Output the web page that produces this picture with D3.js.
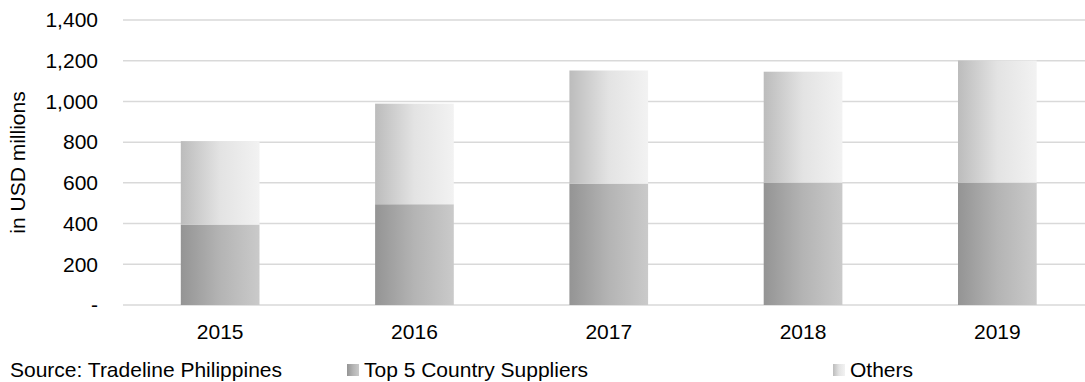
<!DOCTYPE html>
<html>
<head>
<meta charset="utf-8">
<script src="https://cdn.jsdelivr.net/npm/d3@7"></script>
<style>
  body { margin: 0; background: #fff; }
  text { font-family: "Liberation Sans", Arial, sans-serif; fill: #000; }
</style>
</head>
<body>
<div id="chart"></div>
<script>
// chart data
var years = ["2015", "2016", "2017", "2018", "2019"];
var top5 = [395, 495, 596, 601, 601];
var others = [410, 494, 556, 545, 600];
var seriesNames = ["Top 5 Country Suppliers", "Others"];
var yTicks = [0, 200, 400, 600, 800, 1000, 1200, 1400];

// dimensions
var W = 1085, H = 382;
var margin = {top: 20, left: 123, bottom: 77};
var plotH = H - margin.top - margin.bottom;
var fontSize = 21;

var svg = d3.select("#chart").append("svg")
    .attr("width", W)
    .attr("height", H);

// gradients for the two series
var defs = svg.append("defs");
function addGrad(id, stops) {
  var g = defs.append("linearGradient")
      .attr("id", id)
      .attr("x1", "0%").attr("x2", "100%")
      .attr("y1", "0%").attr("y2", "0%");
  stops.forEach(function(s) {
    g.append("stop").attr("offset", s[0]).attr("stop-color", s[1]);
  });
}
addGrad("gTop5", [["0%", "#949494"], ["50%", "#b4b4b4"], ["100%", "#cacaca"]]);
addGrad("gOthers", [["0%", "#bcbcbc"], ["50%", "#e3e3e3"], ["100%", "#f2f2f2"]]);

var g = svg.append("g")
    .attr("transform", "translate(" + margin.left + "," + margin.top + ")");

// scales
var x = d3.scaleBand()
  .domain(years)
  .range([0, 971.5])
  .paddingInner(0.595)
  .paddingOuter(0.2975);

var y = d3.scaleLinear()
  .domain([0, 1400])
  .range([plotH, 0]);

// gridlines
g.append("g")
  .selectAll("line")
  .data(yTicks)
  .enter().append("line")
    .attr("x1", 0)
    .attr("x2", W)
    .attr("y1", function(d) { return y(d); })
    .attr("y2", function(d) { return y(d); })
    .attr("stroke", "#d9d9d9")
    .attr("stroke-width", 1.5);

// y axis labels
g.append("g")
  .call(d3.axisLeft(y)
    .tickValues(yTicks)
    .tickSize(0)
    .tickPadding(25)
    .tickFormat(function(d) { return d === 0 ? "-" : d3.format(",")(d); }))
  .call(function(a) { a.select(".domain").remove(); })
  .selectAll("text")
    .attr("font-size", fontSize)
    .attr("font-family", "Liberation Sans, Arial, sans-serif")
    .attr("fill", "#000");

// x axis labels
g.append("g")
  .attr("transform", "translate(0," + plotH + ")")
  .call(d3.axisBottom(x).tickSize(0).tickPadding(19))
  .call(function(a) { a.select(".domain").remove(); })
  .selectAll("text")
    .attr("font-size", fontSize)
    .attr("font-family", "Liberation Sans, Arial, sans-serif")
    .attr("fill", "#000");

// stacked bars
var stackData = years.map(function(yr, i) {
  return {year: yr, top5: top5[i], others: others[i]};
});
var stack = d3.stack().keys(["top5", "others"]);
var layers = stack(stackData);
var fills = {top5: "url(#gTop5)", others: "url(#gOthers)"};

g.selectAll("g.layer")
  .data(layers)
  .enter().append("g")
    .attr("class", "layer")
    .attr("fill", function(d) { return fills[d.key]; })
  .selectAll("rect")
  .data(function(d) { return d; })
  .enter().append("rect")
    .attr("x", function(d) { return x(d.data.year); })
    .attr("width", x.bandwidth())
    .attr("y", function(d) { return y(d[1]); })
    .attr("height", function(d) { return y(d[0]) - y(d[1]); });

// y axis title
svg.append("text")
  .attr("transform", "translate(25," + (margin.top + plotH / 2) + ") rotate(-90)")
  .attr("text-anchor", "middle")
  .attr("font-size", fontSize)
  .text("in USD millions");

// source note
svg.append("text")
  .attr("x", 10)
  .attr("y", 377)
  .attr("font-size", fontSize)
  .text("Source: Tradeline Philippines");

// legend
var legendX = [347, 833];
var legendFills = ["url(#gTop5)", "url(#gOthers)"];
var legend = svg.selectAll("g.legend")
  .data(seriesNames)
  .enter().append("g")
    .attr("class", "legend")
    .attr("transform", function(d, i) { return "translate(" + legendX[i] + ",364)"; });

legend.append("rect")
  .attr("width", 12)
  .attr("height", 12)
  .attr("fill", function(d, i) { return legendFills[i]; });

legend.append("text")
  .attr("x", 17)
  .attr("y", 13)
  .attr("font-size", fontSize)
  .text(function(d) { return d; });
</script>
</body>
</html>
